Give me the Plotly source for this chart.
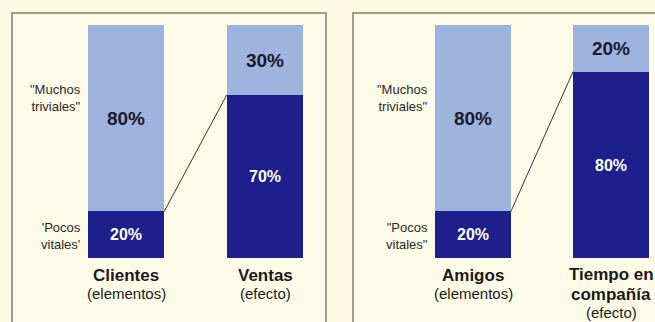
import plotly.graph_objects as go

# Pareto 80/20 illustration: two panels, each with a cause bar and an effect bar
panel1_categories = ["Clientes", "Ventas"]
panel1_vital = [20, 70]      # "pocos vitales" share (dark)
panel1_trivial = [80, 30]    # "muchos triviales" share (light)
panel1_subtitles = ["(elementos)", "(efecto)"]

panel2_categories = ["Amigos", "Tiempo en|compañía"]
panel2_vital = [20, 80]
panel2_trivial = [80, 20]
panel2_subtitles = ["(elementos)", "(efecto)"]

side_labels_p1 = ["\"Muchos<br>triviales\"", "'Pocos<br>vitales'"]
side_labels_p2 = ["\"Muchos<br>triviales\"", "\"Pocos<br>vitales\""]

W, H = 655, 322
DARK = "#1d1f8c"
LIGHT = "#9fb3df"
BG = "#fdfbe4"
BORDER = "#a39d8c"
FONT = "Arial, Liberation Sans, sans-serif"

fig = go.Figure()

panels = [
    (panel1_categories, panel1_vital, panel1_trivial, "x", "y"),
    (panel2_categories, panel2_vital, panel2_trivial, "x2", "y"),
]
for cats, vital, trivial, xa, ya in panels:
    xs = list(range(len(cats)))
    fig.add_trace(go.Bar(
        x=xs, y=vital, xaxis=xa, yaxis=ya, marker=dict(color=DARK, line=dict(width=0)),
        width=0.55, text=[f"{v}%" for v in vital], textposition="inside",
        insidetextanchor="middle", textangle=0,
        textfont=dict(color="white", size=16, family=FONT, weight="bold"),
        showlegend=False, hoverinfo="skip"))
    fig.add_trace(go.Bar(
        x=xs, y=trivial, xaxis=xa, yaxis=ya, marker=dict(color=LIGHT, line=dict(width=0)),
        width=0.55, text=[f"{v}%" for v in trivial], textposition="inside",
        insidetextanchor="middle", textangle=0,
        textfont=dict(color="#1a1a2a", size=19, family=FONT, weight="bold"),
        showlegend=False, hoverinfo="skip"))
    # connector from top of the cause's vital share to top of the effect's vital share
    fig.add_trace(go.Scatter(
        x=[xs[0] + 0.275, xs[1] - 0.275], y=[vital[0], vital[1]], xaxis=xa, yaxis=ya,
        mode="lines", line=dict(color="#333333", width=1), showlegend=False, hoverinfo="skip"))

# vertical scale: 0 sits at y=258 px, 100 at y=25 px
ppu = (258 - 25) / 100.0
y_range = [-(H - 258) / ppu, 100 + 25 / ppu]

def x_range(dom_px, c0_px, sep_px):
    left = (c0_px - dom_px[0]) / sep_px
    span = (dom_px[1] - dom_px[0]) / sep_px
    return [-left, span - left]

p1_dom = (12, 326)
p2_dom = (353, 655)
ax_common = dict(visible=False, fixedrange=True)
fig.update_layout(
    width=W, height=H, margin=dict(l=0, r=0, t=0, b=0),
    paper_bgcolor=BG, plot_bgcolor="rgba(0,0,0,0)", barmode="stack", bargap=0,
    xaxis=dict(domain=[p1_dom[0] / W, p1_dom[1] / W], range=x_range(p1_dom, 126, 139), **ax_common),
    xaxis2=dict(domain=[p2_dom[0] / W, p2_dom[1] / W], range=x_range(p2_dom, 473, 138), anchor="y", **ax_common),
    yaxis=dict(domain=[0, 1], range=y_range, **ax_common),
    font=dict(family=FONT, color="#222222"),
)

# panel frames
for x0, x1 in [(12, 326), (353, 660)]:
    fig.add_shape(type="rect", xref="paper", yref="paper", layer="below",
                  x0=x0 / W, x1=x1 / W, y0=-0.05, y1=1 - 13 / H,
                  line=dict(color=BORDER, width=2), fillcolor="#fefce8")

# category titles (bold) and subtitles below each bar, one line per annotation
for cats, subs, xa in [(panel1_categories, panel1_subtitles, "x"), (panel2_categories, panel2_subtitles, "x2")]:
    for i, (c, s) in enumerate(zip(cats, subs)):
        title_lines = c.split("|")
        ys = [275, 293] if len(title_lines) == 1 else [274, 294, 312]
        lines = [(t, 17, "bold") for t in title_lines] + [(s, 15, "normal")]
        for (t, sz, wt), ypx in zip(lines, ys):
            fig.add_annotation(
                x=i, xref=xa, y=1 - ypx / H, yref="paper", yanchor="middle",
                showarrow=False, text=t,
                font=dict(size=sz, family=FONT, color="#1a1a1a", weight=wt))

# side labels next to cause bars
for labels, xa in [(side_labels_p1, "x"), (side_labels_p2, "x2")]:
    for text, ypx in zip(labels, [98, 236]):
        fig.add_annotation(x=-0.31, xref=xa, y=1 - ypx / H, yref="paper",
                           xanchor="right", yanchor="middle",
                           showarrow=False, text=text, align="right",
                           font=dict(size=13, family=FONT, color="#2a2a2a"))

fig.write_html("out.html")
